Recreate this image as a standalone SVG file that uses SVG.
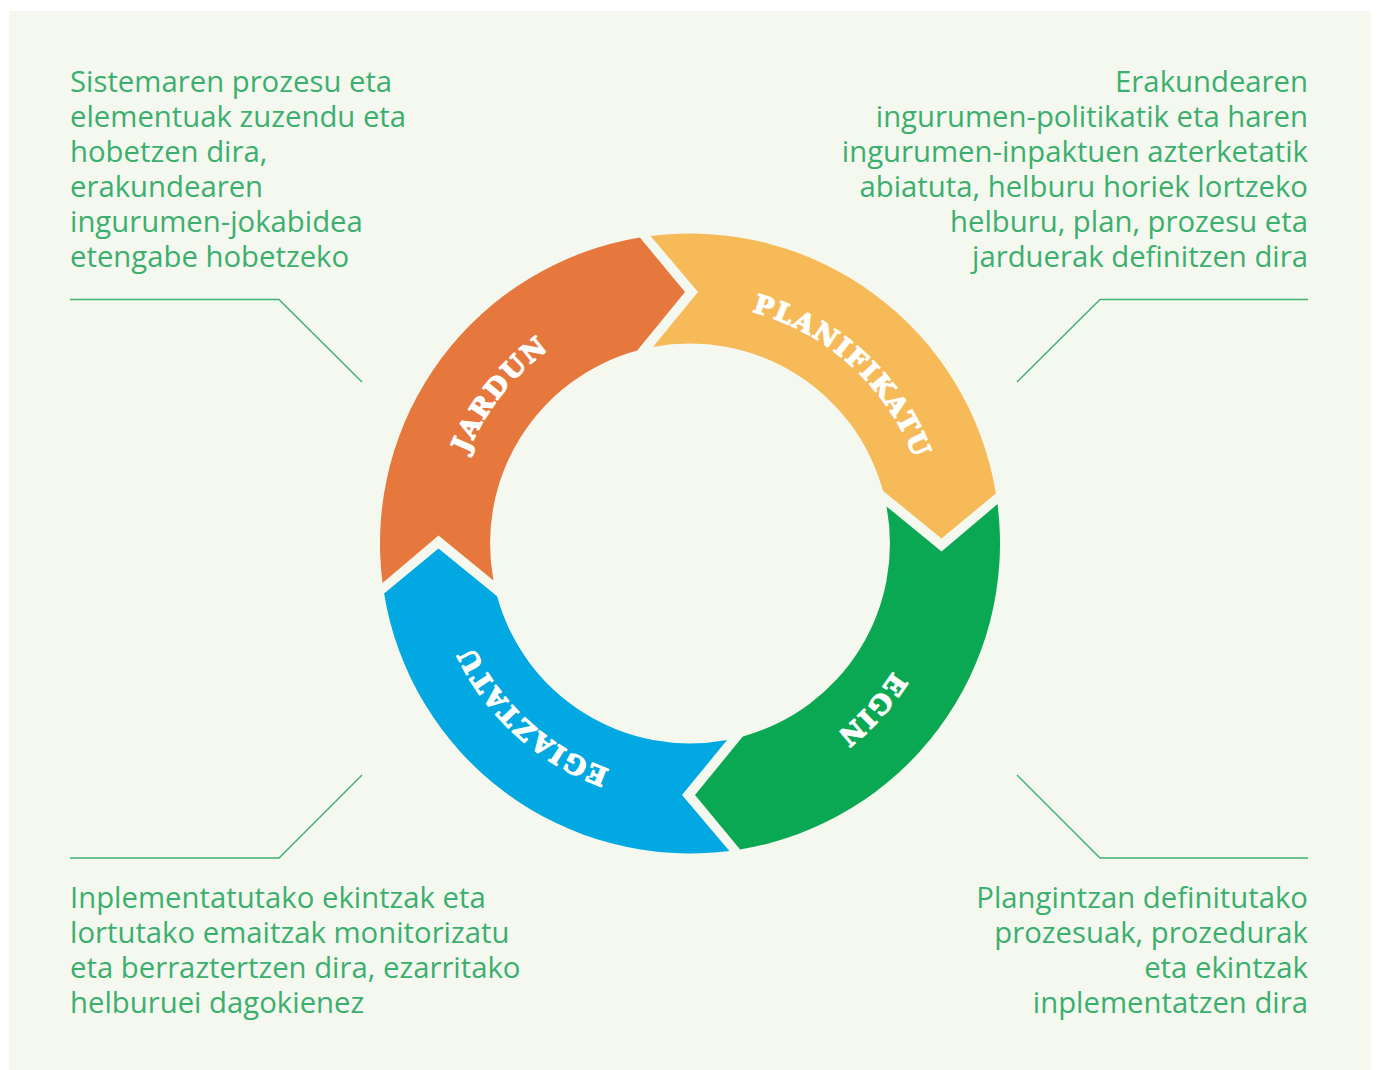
<svg xmlns="http://www.w3.org/2000/svg" width="1378" height="1070" viewBox="0 0 1378 1070">
  <defs>
    <style>
      .desc { font-family: "Open Sans", "Noto Sans", sans-serif; font-size: 29.3px; fill: #3BAF6E; }
      .lbl { font-family: "DejaVu Serif", "Liberation Serif", serif; font-weight: bold; font-size: 26px; fill: #ffffff; stroke: #ffffff; stroke-width: 1.3px; stroke-linejoin: round; letter-spacing: 2px; }
      .conn { fill: none; stroke: #3DB072; stroke-width: 1.4; }
    </style>
    <path id="seg" d="M -307.5 39.4 A 310 310 0 0 1 -50.1 -305.9 L -5 -251.5 L -52.8 -192.9 A 200 200 0 0 0 -196.5 37.1 L -251.5 -8 Z"/>
    <path id="ring" d="M 930 543.5 A 240 240 0 1 1 450 543.5 A 240 240 0 1 1 930 543.5"/>
  </defs>
  <rect x="0" y="0" width="1378" height="1070" fill="#ffffff"/>
  <rect x="9" y="11" width="1362" height="1059" fill="#F5F8EE"/>

  <g id="connectors">
    <polyline class="conn" points="70,299.5 279,299.5 362,382"/>
    <polyline class="conn" points="1308,299.5 1100,299.5 1017,382"/>
    <polyline class="conn" points="70,858 279,858 362,775"/>
    <polyline class="conn" points="1308,858 1100,858 1017,775"/>
  </g>

  <g id="jardun">
    <use href="#seg" transform="translate(690,543.5) rotate(0)" fill="#E6783E"/>
    <text class="lbl"><textPath href="#ring" startOffset="60.6%" text-anchor="middle">JARDUN</textPath></text>
  </g>
  <g id="planifikatu">
    <use href="#seg" transform="translate(690,543.5) rotate(90)" fill="#F6BB58"/>
    <text class="lbl"><textPath href="#ring" startOffset="86.75%" text-anchor="middle">PLANIFIKATU</textPath></text>
  </g>
  <g id="egin">
    <use href="#seg" transform="translate(690,543.5) rotate(180)" fill="#0BA853"/>
    <text class="lbl"><textPath href="#ring" startOffset="11.8%" text-anchor="middle">EGIN</textPath></text>
  </g>
  <g id="egiaztatu">
    <use href="#seg" transform="translate(690,543.5) rotate(270)" fill="#02A8E2"/>
    <text class="lbl"><textPath href="#ring" startOffset="36.75%" text-anchor="middle">EGIAZTATU</textPath></text>
  </g>

  <g id="text-act">
    <text class="desc" x="70" y="92">Sistemaren prozesu eta</text>
    <text class="desc" x="70" y="127">elementuak zuzendu eta</text>
    <text class="desc" x="70" y="162">hobetzen dira,</text>
    <text class="desc" x="70" y="197">erakundearen</text>
    <text class="desc" x="70" y="232">ingurumen-jokabidea</text>
    <text class="desc" x="70" y="267">etengabe hobetzeko</text>
  </g>
  <g id="text-plan" text-anchor="end">
    <text class="desc" x="1308" y="92">Erakundearen</text>
    <text class="desc" x="1308" y="127">ingurumen-politikatik eta haren</text>
    <text class="desc" x="1308" y="162">ingurumen-inpaktuen azterketatik</text>
    <text class="desc" x="1308" y="197">abiatuta, helburu horiek lortzeko</text>
    <text class="desc" x="1308" y="232">helburu, plan, prozesu eta</text>
    <text class="desc" x="1308" y="267">jarduerak definitzen dira</text>
  </g>
  <g id="text-check">
    <text class="desc" x="70" y="908">Inplementatutako ekintzak eta</text>
    <text class="desc" x="70" y="943">lortutako emaitzak monitorizatu</text>
    <text class="desc" x="70" y="978">eta berraztertzen dira, ezarritako</text>
    <text class="desc" x="70" y="1013">helburuei dagokienez</text>
  </g>
  <g id="text-do" text-anchor="end">
    <text class="desc" x="1308" y="908">Plangintzan definitutako</text>
    <text class="desc" x="1308" y="943">prozesuak, prozedurak</text>
    <text class="desc" x="1308" y="978">eta ekintzak</text>
    <text class="desc" x="1308" y="1013">inplementatzen dira</text>
  </g>
</svg>
